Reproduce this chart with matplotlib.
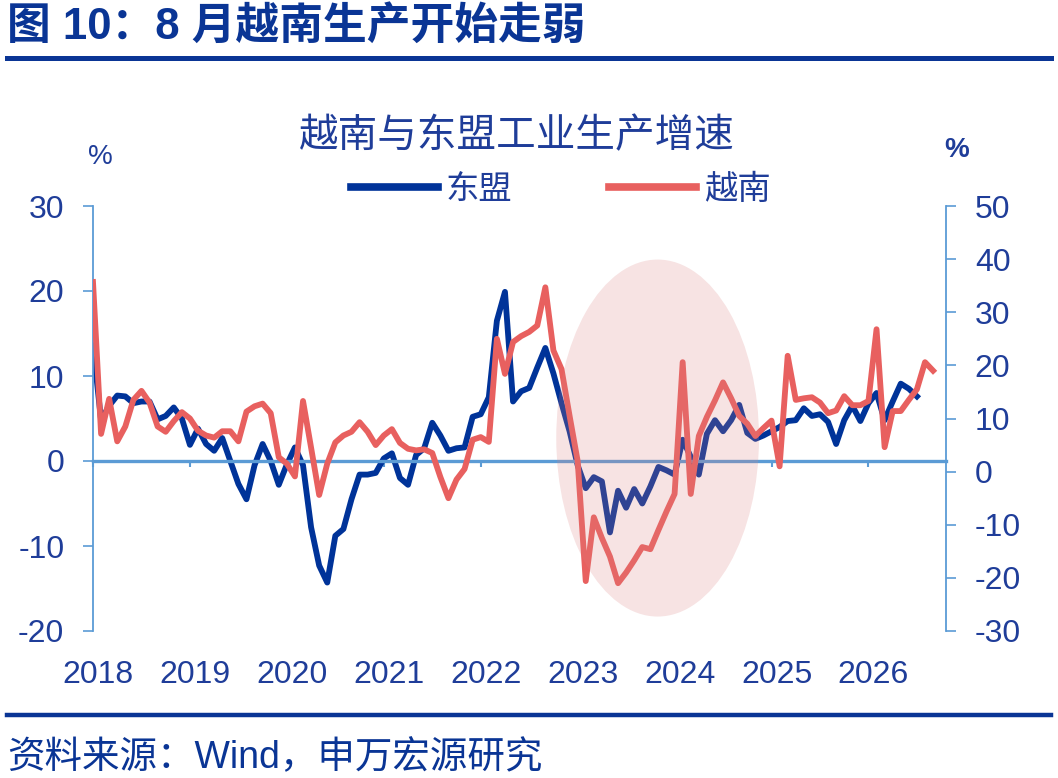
import matplotlib.pyplot as plt
from matplotlib.patches import Ellipse
from matplotlib.lines import Line2D
from matplotlib.transforms import ScaledTranslation

plt.rcParams['font.family'] = ['Liberation Sans', 'Noto Sans CJK SC']
plt.rcParams['axes.unicode_minus'] = False

# monthly growth, % yoy, starting Jan 2018
asean = [13.6, 4.8, 6.5, 7.7, 7.6, 6.8, 7.0, 7.0, 4.9, 5.3,
         6.3, 5.0, 1.9, 3.8, 2.0, 1.2, 2.7, 0.0, -2.7, -4.5,
         -0.5, 2.0, 0.0, -2.8, -0.4, 1.6, -0.5, -7.8, -12.3, -14.3,
         -8.8, -8.0, -4.5, -1.6, -1.6, -1.4, 0.3, 0.9, -2.0, -2.8,
         0.7, 1.5, 4.5, 3.0, 1.2, 1.5, 1.6, 5.2, 5.5, 7.5,
         16.5, 19.9, 7.0, 8.2, 8.6, 11.0, 13.3, 10.3, 6.8, 3.5,
         -0.5, -3.2, -1.9, -2.4, -8.4, -3.5, -5.5, -3.3, -5.0, -3.0,
         -0.7, -1.1, -1.6, 2.5, 0.5, -1.6, 3.2, 4.8, 3.5, 4.8,
         6.6, 3.3, 2.6, 3.0, 3.5, 4.0, 4.7, 4.8, 6.2, 5.3,
         5.5, 4.6, 2.0, 4.8, 6.5, 4.7, 6.8, 8.0, 4.8, 7.0,
         9.1, 8.5, 7.6]

vietnam = [35.7, 7.1, 13.7, 5.7, 8.5, 13.5, 15.2, 13.0, 8.5, 7.5,
           9.5, 11.2, 10.0, 7.7, 6.8, 6.4, 7.6, 7.6, 5.7, 11.3,
           12.3, 12.8, 11.0, 2.7, 1.5, -0.9, 13.3, 4.5, -4.4, 1.5,
           5.5, 6.8, 7.5, 9.3, 7.5, 5.0, 6.8, 8.0, 5.4, 4.3,
           4.0, 4.2, 3.5, -1.0, -5.0, -1.5, 0.5, 6.0, 6.5, 5.6,
           25.0, 18.4, 24.4, 25.5, 26.3, 27.5, 34.7, 22.8, 19.3, 10.5,
           2.0, -20.6, -8.6, -12.5, -16.0, -21.0, -19.0, -16.7, -14.2, -14.6,
           -11.0, -7.5, -4.2, 20.6, -4.2, 6.7, 10.3, 13.4, 16.8, 13.8,
           10.5, 9.0, 6.7, 8.2, 9.6, 1.0, 21.8, 13.5, 13.8, 14.0,
           13.0, 11.0, 11.5, 14.2, 12.5, 12.5, 13.3, 26.8, 4.6, 11.4,
           11.4, 13.5, 15.5, 20.6, 19.0]

years = ['2018', '2019', '2020', '2021', '2022', '2023', '2024', '2025', '2026']

BLUE = '#003399'
RED = '#E8605F'
SPINE = '#5B9BD5'
TXT = '#1F3D99'
NAVY = '#0A3595'

W, H = 1058, 778
fig = plt.figure(figsize=(W / 100, H / 100), dpi=100)
ax = fig.add_axes([93 / W, 1 - 631 / H, (946 - 93) / W, 425 / H])
ax2 = ax.twinx()

l1, = ax.plot(range(len(asean)), asean, color=BLUE, lw=4.2, solid_joinstyle='round')
l2, = ax2.plot(range(len(vietnam)), vietnam, color=RED, lw=4.2, solid_joinstyle='round')

ax.set_xlim(0, 105.6)
ax.set_ylim(-20, 30)
ax2.set_ylim(-30, 50)
ax.set_yticks(range(-20, 31, 10))
ax2.set_yticks(range(-30, 51, 10))
ax.set_xticks(range(0, 12 * len(years), 12))
ax.set_xticklabels(years)

# highlight 2023-2024
ell = Ellipse((69.9, 2.7), 25.1, 42, transform=ax.transData,
              facecolor='#DC8080', edgecolor='none', alpha=0.22, zorder=5)
ax2.add_patch(ell)

for a in (ax, ax2):
    for s in a.spines.values():
        s.set_color(SPINE)
        s.set_linewidth(1.3)
ax.spines['top'].set_visible(False)
ax.spines['right'].set_visible(False)
ax.spines['bottom'].set_position(('data', 0))
ax.spines['bottom'].set_linewidth(2.4)
ax2.spines['top'].set_visible(False)
ax2.spines['bottom'].set_visible(False)
ax2.spines['left'].set_visible(False)

ax.tick_params(axis='y', direction='out', length=7.2, width=1.2, color=SPINE,
               pad=13.5, labelsize=23, labelcolor=TXT)
ax2.tick_params(axis='y', direction='out', length=7.2, width=1.2, color=SPINE,
                pad=13.5, labelsize=23, labelcolor=TXT)
ax.tick_params(axis='x', direction='out', length=4.5, width=1.5, color=SPINE,
               pad=138.5, labelsize=23, labelcolor=TXT)
for lab in ax.get_xticklabels():
    lab.set_transform(lab.get_transform() + ScaledTranslation(5 / 100, 0, fig.dpi_scale_trans))

# titles and labels
fig.text(7 / W, 1 - 27 / H, '图 10：8 月越南生产开始走弱', ha='left', va='center',
         fontsize=31.5, fontweight='bold', color=NAVY)
fig.add_artist(Line2D([7 / W, 1051 / W], [1 - 58 / H, 1 - 58 / H], color=NAVY, lw=3.6))
fig.text(517 / W, 1 - 136 / H, '越南与东盟工业生产增速', ha='center', va='center',
         fontsize=28.5, color=TXT)
fig.text(100 / W, 1 - 157 / H, '%', ha='center', va='center', fontsize=20, color=TXT)
fig.text(957 / W, 1 - 150 / H, '%', ha='center', va='center', fontsize=20,
         fontweight='bold', color=TXT)

leg = fig.legend(handles=[l1, l2], labels=['东盟', '越南'], loc='center',
                 bbox_to_anchor=(561 / W, 1 - 190 / H), ncol=2, frameon=False,
                 fontsize=24, handlelength=2.6, handletextpad=0.25,
                 columnspacing=2.9, labelcolor=TXT)
for ln in leg.get_lines():
    ln.set_linewidth(5.5)

fig.add_artist(Line2D([7 / W, 1051 / W], [1 - 715 / H, 1 - 715 / H], color=NAVY, lw=3.2))
fig.text(7 / W, 1 - 758 / H, '资料来源：Wind，申万宏源研究', ha='left', va='center',
         fontsize=27, color=NAVY)

fig.savefig('out.png', dpi=100)
